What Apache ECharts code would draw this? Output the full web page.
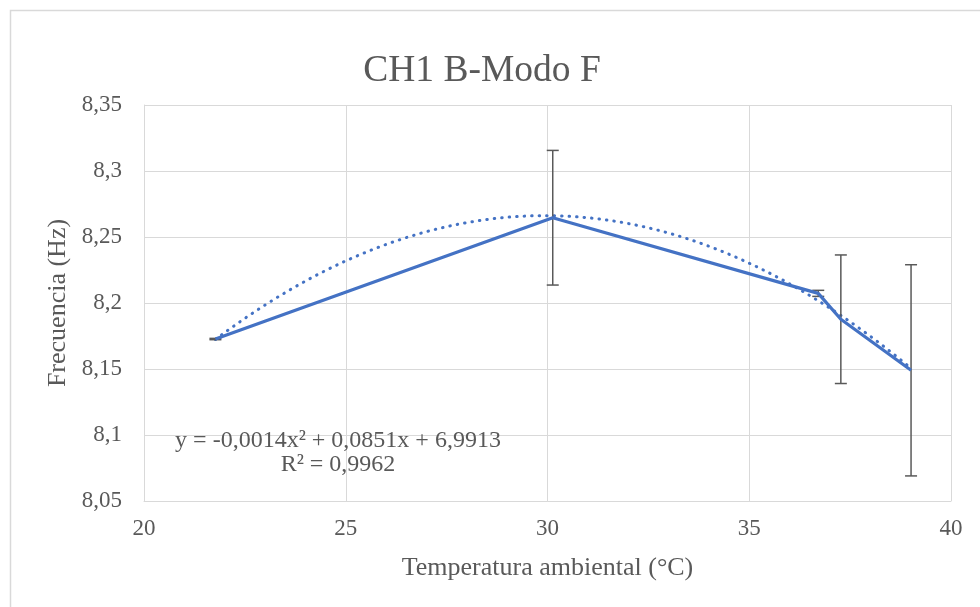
<!DOCTYPE html>
<html>
<head>
<meta charset="utf-8">
<script src="https://cdn.jsdelivr.net/npm/echarts@6/dist/echarts.min.js"></script>
<style>html,body{margin:0;padding:0;background:#fff}#c{width:980px;height:607px}</style>
</head>
<body>
<div id="c"></div>
<script>
var titleText = 'CH1 B-Modo F';
var xName = 'Temperatura ambiental (°C)';
var yName = 'Frecuencia (Hz)';
var temps = [21.77, 30.13, 36.71, 37.27, 39.01];
var freqs = [8.1727, 8.2646, 8.2073, 8.1877, 8.149];
var errs = [0.0005, 0.051, 0.0023, 0.0487, 0.08];
var eqLine1 = 'y = -0,0014x² + 0,0851x + 6,9913';
var eqLine2 = 'R² = 0,9962';

// quadratic least-squares fit of the data (the trendline)
function polyFit2(xs, ys) {
  var n = xs.length, S = [0,0,0,0,0], T = [0,0,0];
  for (var i = 0; i < n; i++) {
    var p = 1;
    for (var k = 0; k < 5; k++) { S[k] += p; if (k < 3) T[k] += p * ys[i]; p *= xs[i]; }
  }
  var A = [[S[0],S[1],S[2],T[0]],[S[1],S[2],S[3],T[1]],[S[2],S[3],S[4],T[2]]];
  for (var c = 0; c < 3; c++) {
    for (var r = c + 1; r < 3; r++) {
      var f = A[r][c] / A[c][c];
      for (var j = c; j < 4; j++) A[r][j] -= f * A[c][j];
    }
  }
  var sol = [0,0,0];
  for (var r2 = 2; r2 >= 0; r2--) {
    var s = A[r2][3];
    for (var j2 = r2 + 1; j2 < 3; j2++) s -= A[r2][j2] * sol[j2];
    sol[r2] = s / A[r2][r2];
  }
  return sol; // a0 + a1 x + a2 x^2
}
var coef = polyFit2(temps, freqs);
var trend = [];
var x0 = Math.min.apply(null, temps), x1 = Math.max.apply(null, temps);
for (var t = 0; t <= 120; t++) {
  var xv = x0 + (x1 - x0) * t / 120;
  trend.push([xv, coef[0] + coef[1] * xv + coef[2] * xv * xv]);
}

var mainData = temps.map(function (x, i) { return [x, freqs[i]]; });
var errData = temps.map(function (x, i) { return [x, freqs[i] - errs[i], freqs[i] + errs[i]]; });

var textColor = '#595959';
var font = '"Liberation Serif", "Times New Roman", serif';

var chart = echarts.init(document.getElementById('c'), null, { renderer: 'canvas' });
chart.setOption({
  animation: false,
  backgroundColor: '#fff',
  textStyle: { fontFamily: font },
  title: {
    text: titleText, left: 477, top: 47, textAlign: 'center',
    textStyle: { fontFamily: font, fontSize: 37.5, fontWeight: 'normal', color: textColor }
  },
  grid: { left: 144, right: 29, top: 105, bottom: 106, containLabel: false },
  xAxis: {
    type: 'value', min: 20, max: 40, interval: 5,
    name: xName, nameLocation: 'middle', nameGap: 54,
    nameTextStyle: { fontFamily: font, fontSize: 26, color: textColor },
    axisLine: { show: true, lineStyle: { color: '#d9d9d9', width: 1 } },
    axisTick: { show: false },
    axisLabel: { fontFamily: font, fontSize: 23, color: textColor, margin: 16 },
    splitLine: { show: true, lineStyle: { color: '#d9d9d9', width: 1 } }
  },
  yAxis: {
    type: 'value', min: 8.05, max: 8.35, interval: 0.05,
    name: yName, nameLocation: 'middle', nameGap: 65,
    nameTextStyle: { fontFamily: font, fontSize: 26, color: textColor },
    axisLine: { show: true, lineStyle: { color: '#d9d9d9', width: 1 } },
    axisTick: { show: false },
    axisLabel: {
      fontFamily: font, fontSize: 23, color: textColor, margin: 22,
      formatter: function (v) { return String(parseFloat(v.toFixed(2))).replace('.', ','); }
    },
    splitLine: { show: true, lineStyle: { color: '#d9d9d9', width: 1 } }
  },
  graphic: [
    { type: 'rect', shape: { x: 10.5, y: 10.5, width: 1200, height: 1200 }, style: { fill: 'none', stroke: '#d9d9d9', lineWidth: 1.5 }, silent: true, z: -10 },
    { type: 'text', x: 338, y: 441, style: { text: eqLine1, fill: textColor, font: '24px ' + font, textAlign: 'center', textVerticalAlign: 'middle' }, z: 10 },
    { type: 'text', x: 338, y: 465, style: { text: eqLine2, fill: textColor, font: '24px ' + font, textAlign: 'center', textVerticalAlign: 'middle' }, z: 10 }
  ],
  series: [
    {
      type: 'line', data: trend, showSymbol: false, symbol: 'none', smooth: false, z: 3,
      lineStyle: { color: '#4472C4', width: 3, type: [0.5, 7], cap: 'round' }
    },
    {
      type: 'custom', z: 4,
      data: errData,
      renderItem: function (params, api) {
        var x = api.value(0);
        var lo = api.coord([x, api.value(1)]);
        var hi = api.coord([x, api.value(2)]);
        var hw = 6;
        var st = { stroke: '#595959', lineWidth: 1.5 };
        return {
          type: 'group',
          children: [
            { type: 'line', shape: { x1: hi[0], y1: hi[1], x2: lo[0], y2: lo[1] }, style: st },
            { type: 'line', shape: { x1: hi[0] - hw, y1: hi[1], x2: hi[0] + hw, y2: hi[1] }, style: st },
            { type: 'line', shape: { x1: lo[0] - hw, y1: lo[1], x2: lo[0] + hw, y2: lo[1] }, style: st }
          ]
        };
      }
    },
    {
      type: 'line', data: mainData, showSymbol: false, symbol: 'none', z: 5,
      lineStyle: { color: '#4472C4', width: 3.2 }
    }
  ]
});
</script>
</body>
</html>
